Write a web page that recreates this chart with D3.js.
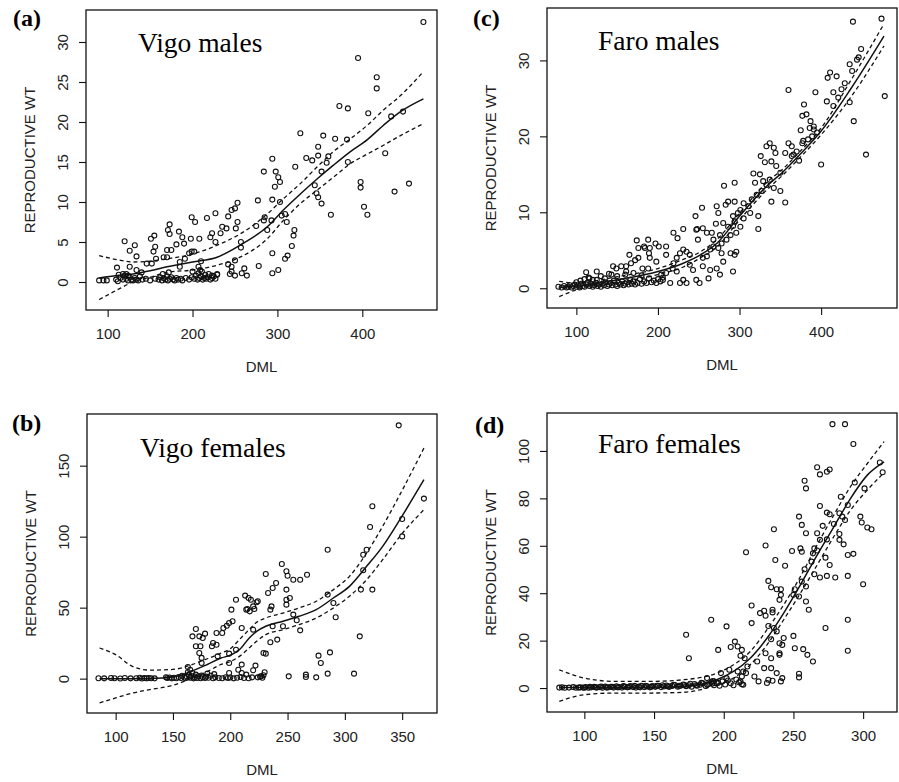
<!DOCTYPE html>
<html>
<head>
<meta charset="utf-8">
<script src="https://cdn.jsdelivr.net/npm/d3@7"></script>
<style>
  body { margin: 0; background: #fff; }
  svg { display: block; }
  .tick-label { font-family: "Liberation Sans", Arial, sans-serif; font-size: 15px; fill: #222; }
  .axis-title { font-family: "Liberation Sans", Arial, sans-serif; font-size: 15px; fill: #222; }
  .panel-tag { font-family: "Liberation Serif", "Times New Roman", serif; font-size: 24px; font-weight: bold; }
  .panel-title { font-family: "Liberation Serif", "Times New Roman", serif; font-size: 27.5px; }
</style>
</head>
<body>
<div id="chart"></div>
<script>
// ---- data (DML, reproductive weight) ----
const vigoMales = [
  [472,32.5],[395,28],[417,25.6],[417,24.2],[407,21.1],[373,22],[383,21.7],[434,20.7],[448,21.3],[427,16.1],
  [438,11.3],[455,12.3],[398,12.5],[398,11.8],[402,9.4],[406,8.4],[363,8.4],[327,18.6],[354,18.3],[368,17.9],
  [382,17.8],[348,16.9],[348,15.8],[334,15.5],[341,15.2],[360,15.7],[358,14.9],[383,15],[352,13.8],[344,12.1],
  [346,11.1],[348,10.6],[352,9.8],[321,14.4],[284,13.8],[294,15.4],[298,13.8],[301,13.1],[303,12.5],[297,11.9],
  [303,10],[294,10.3],[277,10.2],[275,7],[285,8.1],[284,7.7],[288,6.5],[293,7.7],[305,8.3],[309,8.5],
  [311,7.5],[320,6.5],[319,5.8],[317,4.5],[312,3.3],[309,2.9],[294,3.6],[294,1.1],[301,1.5],[278,2],
  [253,7.5],[257,5],[257,4.3],[251,6.7],[250,9.2],[253,9.9],[246,9],[242,8.2],[240,6.7],[235,6.9],
  [227,8.6],[217,8],[233,6.1],[227,5],[223,6.1],[221,5.6],[208,5.4],[199,8.1],[203,7.5],[198,5.4],
  [188,5.6],[190,4.8],[184,6.3],[173,7.2],[171,6.5],[173,6],[170,4],[175,4],[181,4.7],[199,3.8],
  [196,3.6],[202,3.8],[191,2.9],[185,2.5],[185,1.9],[166,3.1],[170,3.1],[157,2.9],[154,3.8],[156,4.4],
  [151,5.4],[155,5.8],[134,3.2],[132,4.6],[126,3.9],[120,5.1],[146,2.3],[152,2.3],[126,1.9],[111,1.8],
  [122,1],[134,1.5],[156,0.4],[250,2.7],[246,1.9],[242,2.2],[246,1.3],[250,0.8],[244,1],[258,1.1],
  [261,1.7],[264,0.8],[229,1],[209,1.5],[207,1.9],[200,1.3],[210,2.6],
  [90,0.2],[95,0.2],[99,0.2],[110,0.3],[112,0.1],[115,0.5],[118,0.3],[120,0.8],[122,0.4],[124,0.2],
  [126,0.6],[128,0.3],[130,0.2],[132,0.5],[134,0.3],[136,0.2],[138,0.7],[141,0.3],[145,0.4],[150,0.2],
  [160,0.3],[162,0.6],[164,0.2],[166,0.5],[168,0.3],[170,0.7],[171,0.2],[173,0.4],[175,0.6],[177,0.3],
  [179,0.2],[181,0.5],[183,0.3],[186,0.4],[188,0.2],[192,0.5],[196,0.3],[199,0.6],[202,0.4],[204,0.8],
  [206,0.3],[208,0.5],[210,0.7],[212,0.3],[214,0.5],[216,0.4],[218,0.6],[221,0.3],[223,0.5],[225,0.7],
  [227,0.4],[229,0.9],[113,0.9],[118,1.0],[124,0.8],[140,1.2],[165,1.0],[172,1.2],[207,1.1],[211,1.3],
  [215,0.9],[219,1.0],[223,0.8]
];
const vigoMalesFitX  = [90, 111, 130, 150, 170, 200, 229, 256, 288, 307, 327, 347, 366, 386, 406, 425, 445, 472];
const vigoMalesFit   = [0.5, 0.8, 1.0, 1.4, 1.9, 2.5, 3.1, 4.6, 6.9, 9.0, 11.0, 12.9, 14.6, 16.3, 17.8, 19.6, 21.3, 22.9];
const vigoMalesUpper = [3.3, 2.8, 2.5, 2.6, 2.9, 3.5, 4.6, 6.0, 8.5, 10.4, 12.3, 14.4, 16.3, 17.9, 19.6, 21.5, 23.3, 26.3];
const vigoMalesLower = [-2.2, -1.0, 0.0, 0.6, 1.2, 1.5, 2.1, 3.1, 5.4, 7.7, 9.8, 11.5, 13.1, 14.8, 16.0, 17.1, 18.3, 19.8];

const faroMales = [
  [474,35.5],[439,35.1],[478,25.3],[455,17.6],[440,22],[435,24.5],[435,29.5],[449,31.5],[446,30.4],[411,28.4],
  [408,27.7],[419,27.9],[415,25.8],[407,24.6],[393,25.8],[360,26.1],[400,16.3],[379,24.2],[377,22.7],[382,22.9],
  [375,20.8],[373,16.8],[387,22],[391,20.9],[384,19.6],[378,19.4],[356,11.3],[350,12.8],[339,11.4],[323,7.8],
  [323,9.5],[337,19.1],[342,18.5],[344,17.8],[333,18.7],[326,17.4],[331,16.6],[339,16.7],[360,19.1],[364,18.7],
  [356,17.8],[364,17.4],[345,16.1],[350,15.2],[317,15.1],[319,13.9],[325,15],[329,14.1],[333,13.6],[337,14.3],
  [342,13.2],[327,12.8],[321,12.3],[315,11.7],[311,10.8],[305,11.2],[301,10.3],[298,9.9],[292,9.5],[294,8.8],
  [281,13.5],[294,13.9],[294,11.4],[286,11.4],[283,11],[272,10.8],[274,9.9],[280,8.6],[286,8.1],[292,8.2],
  [296,7.3],[289,7],[296,4.8],[294,4.4],[289,4.6],[292,2.2],[278,4.6],[280,3.5],[276,1.8],[272,2.6],
  [274,5.3],[268,6.4],[266,7.3],[271,8.5],[276,7],[260,7.3],[255,7.9],[254,10.6],[247,7.7],[246,9.5],
  [248,7.8],[249,6.4],[231,7.8],[224,6.6],[219,7.3],[210,5.5],[210,4.4],[201,5.5],[197,5.9],[190,5.3],
  [188,6.4],[184,5.3],[183,5.5],[174,6.3],[176,5.3],[176,4],[172,3.7],[165,4.4],[167,3.3],[189,4.6],
  [190,4],[198,3.5],[188,2.6],[181,2.6],[161,2.9],[155,2.9],[145,2.9],[149,2.6],[161,2.2],[143,1.8],
  [112,2.1],[125,2.2],[116,1.3],[120,1.1],[235,4.8],[239,4.4],[231,5.1],[227,4.6],[223,4],[219,3.3],
  [218,2.6],[223,2.2],[231,1.1],[235,0.7],[247,1.1],[251,0.7],[262,1.3],[264,2.4],[255,2.9],[243,2.4],
  [239,3.1],[210,2],[204,1.8],[206,1.1],[215,0.7],[227,0.7],[255,4],[260,4.2],[264,5.1],[268,5.5],
  [278,5.9],[284,6.4],[301,8.1],[305,9.2],[313,9.9],[366,17.6],[370,18],[377,19.1],[389,20],[395,20.5],
  [386,21.1],[391,21.3],[415,24],[421,25.1],[425,26.2],[429,27],[438,28.6],[444,30.1],
  [78,0.2],[82,0.1],[85,0.3],[88,0.1],[90,0.2],[92,0.4],[94,0.1],[96,0.3],[98,0.5],[100,0.2],
  [102,0.4],[104,0.1],[106,0.6],[108,0.3],[110,0.2],[112,0.5],[114,0.8],[116,0.3],[118,0.6],[120,0.2],
  [122,0.4],[124,0.7],[126,0.3],[128,0.5],[130,0.2],[132,0.6],[134,0.4],[136,0.8],[138,0.3],[140,0.5],
  [142,0.7],[144,0.4],[146,1.0],[148,0.5],[150,0.3],[152,0.7],[154,0.5],[156,0.9],[158,0.4],[160,0.6],
  [162,0.8],[164,0.5],[166,1.1],[168,0.6],[170,0.9],[172,0.5],[175,0.7],[178,1.2],[180,0.6],[183,0.9],
  [186,0.7],[189,1.3],[192,0.8],[195,1.0],[198,0.7],[200,1.2],[203,0.9],[206,1.4],[100,0.8],[105,1.0],
  [110,1.2],[115,1.4],[125,1.1],[130,1.6],[135,1.3],[140,1.9],[150,1.6],[160,1.8],[170,2.0],[180,1.7]
];
const faroMalesFitX  = [79, 100, 149, 200, 231, 252, 272, 300, 333, 354, 374, 400, 436, 477];
const faroMalesFit   = [0.1, 0.3, 1.1, 2.2, 3.3, 4.4, 5.9, 9.5, 13.4, 15.4, 17.6, 20.7, 26.2, 33.2];
const faroMalesUpper = [0.9, 0.7, 1.5, 2.6, 3.8, 4.8, 6.4, 9.9, 13.9, 15.8, 18.0, 21.1, 27.3, 34.8];
const faroMalesLower = [-1.1, -0.2, 0.7, 1.8, 2.8, 4.0, 5.4, 9.0, 12.9, 15.0, 17.2, 20.2, 25.1, 31.9];

const vigoFemales = [
  [347,178.4],[369,126.8],[350,112.4],[350,100.2],[324,121.4],[322,106.8],[324,62.7],[314,62.7],[316,87.3],[319,90.8],
  [316,76.3],[313,29.8],[308,3.5],[285,90.8],[285,59.2],[290,53.3],[292,43.2],[287,18.5],[277,16.2],[279,11],
  [285,3.5],[275,0.9],[266,2.8],[266,1.2],[251,1.6],[267,73.2],[261,69.7],[255,69.7],[249,75.6],[250,72.5],
  [245,80.8],[249,62.7],[249,55.6],[252,56.8],[249,52.1],[255,45.1],[258,41.1],[261,34],[246,36.9],[237,36.9],
  [235,48.6],[236,50.9],[240,67.4],[237,63.8],[233,60.3],[231,73.7],[241,27.5],[235,25.6],[229,18.1],[231,17.6],
  [227,1.6],[230,4.5],[224,0.9],[222,9.2],[223,53.8],[224,54.5],[220,50.9],[221,49.1],[218,55.6],[216,56.8],
  [213,58.5],[215,49.1],[217,47.4],[214,48.6],[220,34.5],[210,35.7],[205,55.6],[201,48.6],[202,40.4],[199,39.2],
  [197,37.3],[194,35.7],[193,32.2],[188,32.2],[185,25.1],[184,22.8],[188,23.9],[178,31.7],[173,29.8],[176,28.6],
  [170,35],[167,29.8],[170,22.8],[174,22.8],[173,18.1],[175,14.6],[175,11],[163,8.2],[165,6.3],[189,15.7],
  [199,17.6],[205,20.4],[199,11],[199,4],[210,9.9],[210,4],[214,2.8],[220,5.9],[207,6.3],
  [85,0.3],[90,0.2],[96,0.5],[99,0.3],[104,0.1],[108,0.4],[113,0.2],[118,0.3],[121,0.6],[123,0.1],
  [125,0.4],[127,0.2],[129,0.5],[131,0.3],[134,0.2],[144,1.0],[145,0.4],[147,0.8],[149,0.2],[151,0.6],
  [153,0.3],[155,1.2],[157,0.5],[158,2.0],[160,0.8],[161,0.3],[162,1.5],[164,2.5],[165,0.6],[166,1.8],
  [168,0.2],[169,1.0],[170,2.8],[171,0.5],[172,1.6],[174,0.3],[175,2.2],[176,0.9],[178,0.4],[179,1.4],
  [181,0.6],[183,2.0],[185,0.3],[187,0.9],[190,0.5],[193,0.3],[196,1.0],[198,0.4],[200,0.8],[203,0.2],
  [206,0.6],[209,1.2],[212,0.4],[216,0.3],[219,0.9],[226,1.5],[228,0.6],[229,2.4],[163,4.5],[167,4],
  [180,3.5],[186,3.2]
];
const vigoFemalesFitX  = [86, 100, 115, 130, 150, 167, 180, 192, 200, 208, 217, 223, 231, 246, 260, 275, 290, 304, 319, 333, 348, 369];
const vigoFemalesFit   = [0, 0, 0, 0.1, 1.2, 5.5, 10, 14.5, 16.5, 20.4, 29, 33.3, 36.9, 40.4, 43.9, 48.6, 56.8, 65, 79.1, 93.2, 112, 140.1];
const vigoFemalesUpper = [21.6, 16.9, 8.5, 6.0, 6.5, 10, 14, 18, 21, 27.5, 35, 39.7, 42.7, 46.2, 49.8, 54.5, 62.7, 72, 88.5, 107.3, 129.6, 162.4];
const vigoFemalesLower = [-17.1, -13.6, -10.1, -7.7, -4.7, 0.5, 5, 10, 12, 15.7, 22, 26.3, 31, 34.5, 38, 42.7, 49.8, 58, 69.7, 83.8, 100.2, 119];

const faroFemales = [
  [278,111.3],[287,111.3],[293,102.9],[294,86.7],[312,95.1],[314,91],[301,84.2],[298,72.3],[299,69.8],[303,67.7],
  [306,67],[300,43.8],[293,56.6],[289,56.1],[289,47.3],[289,28.8],[289,15.7],[286,60.6],[284,80.7],[289,77.2],
  [283,73.7],[285,72.3],[287,70.9],[279,69.2],[283,65],[283,62.5],[280,46.6],[276,92.2],[267,93.1],[269,90.1],
  [274,91.2],[258,87.4],[259,84.2],[269,76.8],[274,74],[276,73.3],[271,68.4],[267,65.3],[259,65.3],[274,62.7],
  [269,62.5],[254,72.3],[256,68.8],[265,58.9],[264,56.8],[267,58],[255,58.9],[256,57.5],[249,57.8],[258,50.1],
  [263,53.3],[265,48],[269,46.6],[273,55],[276,51.9],[274,47.3],[256,44.9],[259,42.8],[251,41.7],[250,39.3],
  [254,38.6],[259,36.5],[261,33],[273,25.3],[250,22],[251,16.8],[257,16.4],[260,14],[264,11.2],[254,6],
  [254,4.5],[236,67],[230,60.1],[237,54],[244,51.6],[232,45.2],[238,41.7],[241,41.7],[241,39.3],[240,37.2],
  [234,42.5],[235,33],[235,31.9],[229,32.6],[230,30.5],[226,31.6],[232,26.2],[236,25.3],[238,23.9],[243,21.1],
  [240,18.9],[242,18.2],[240,14.7],[240,14],[234,20.6],[230,14.7],[234,12.6],[234,8.4],[229,8.4],[238,6.3],
  [242,4.2],[241,2.8],[235,3.1],[232,3.5],[220,34.8],[220,27.4],[216,57.3],[224,11.2],[222,4.9],[225,2.8],
  [231,2.1],[210,17.5],[213,16.1],[212,13.6],[215,12.6],[208,19.6],[205,17.3],[202,26],[191,28.8],[196,16.1],
  [173,22.5],[175,12.6],[217,9.1],[214,7],[216,6.3],[213,4.9],[212,2.8],[210,7],[204,7.7],[202,4.2],
  [198,6.3],[193,2.8],[188,4.2],[214,1.4],
  [82,0.2],[84,0.3],[86,0.1],[89,0.2],[94,0.1],[97,0.3],[99,0.2],[101,0.4],[103,0.1],[105,0.3],
  [107,0.5],[109,0.2],[111,0.4],[113,0.1],[115,0.6],[117,0.3],[119,0.5],[121,0.2],[123,0.7],[125,0.4],
  [127,0.2],[129,0.6],[131,0.3],[133,0.8],[135,0.4],[137,0.2],[139,0.6],[141,0.9],[143,0.4],[145,0.7],
  [147,0.3],[149,0.8],[151,0.5],[153,1.0],[155,0.4],[157,0.7],[159,1.1],[161,0.5],[163,0.9],[165,1.3],
  [167,0.6],[169,1.0],[171,1.5],[173,0.8],[175,1.2],[177,0.6],[179,1.7],[181,1.0],[183,1.4],[185,2.0],
  [187,0.9],[189,1.6],[191,2.4],[193,1.2],[195,2.0],[197,1.0],[199,2.8],[201,1.5],[203,3.2],[205,2.0],
  [207,1.2],[209,3.6],[211,2.4],[213,1.6],
  [92,0.4],[96,0.2],[100,0.1],[104,0.5],[108,0.3],[112,0.6],[116,0.2],[120,0.5],[124,0.3],[128,0.8],
  [132,0.5],[136,0.9],[140,0.3],[144,1.0],[148,0.6],[152,0.9],[156,1.2],[160,0.7],[164,1.4],[168,0.9],
  [172,1.3],[176,1.8],[180,1.2],[184,2.2],[188,1.5],[192,3.0],[196,2.2]
];
const faroFemalesFitX  = [82, 100, 123, 147, 171, 195, 207, 219, 231, 243, 255, 267, 279, 291, 303, 315];
const faroFemalesFit   = [0.2, 0.2, 0.2, 0.3, 0.7, 3.5, 7, 12.6, 21, 31.6, 43.5, 56.1, 68, 80, 89.8, 95.4];
const faroFemalesUpper = [7.7, 4.2, 2.8, 2.8, 3.5, 6.3, 9.8, 15.4, 24.6, 35.1, 47, 60.4, 73, 85, 94.7, 103.9];
const faroFemalesLower = [-5.6, -2.8, -2.1, -2.1, -1.8, 1.4, 4.2, 9.8, 18.2, 28.8, 40, 51.9, 63.9, 75.1, 83.5, 90.8];

// tick values
const vigoMalesXTicks = [100, 200, 300, 400];
const vigoMalesYTicks = [0, 5, 10, 15, 20, 25, 30];
const faroMalesXTicks = [100, 200, 300, 400];
const faroMalesYTicks = [0, 10, 20, 30];
const vigoFemalesXTicks = [100, 150, 200, 250, 300, 350];
const vigoFemalesYTicks = [0, 50, 100, 150];
const faroFemalesXTicks = [100, 150, 200, 250, 300];
const faroFemalesYTicks = [0, 20, 40, 60, 80, 100];

// ---- layout ----
const width = 899, height = 782;
const svg = d3.select("#chart").append("svg")
    .attr("width", width)
    .attr("height", height);

const panels = [
  { tag: "(a)", title: "Vigo males", pts: vigoMales, fx: vigoMalesFitX, fit: vigoMalesFit, hi: vigoMalesUpper, lo: vigoMalesLower,
    xt: vigoMalesXTicks, yt: vigoMalesYTicks, xd: [74.5, 488], yd: [-3.5, 34],
    box: { l: 86, r: 437, t: 10, b: 310 }, tagPos: [13, 26], titlePos: [138, 52] },
  { tag: "(c)", title: "Faro males", pts: faroMales, fx: faroMalesFitX, fit: faroMalesFit, hi: faroMalesUpper, lo: faroMalesLower,
    xt: faroMalesXTicks, yt: faroMalesYTicks, xd: [64, 493], yd: [-2.6, 36.9],
    box: { l: 547, r: 897, t: 8, b: 308 }, tagPos: [473, 26], titlePos: [598, 50] },
  { tag: "(b)", title: "Vigo females", pts: vigoFemales, fx: vigoFemalesFitX, fit: vigoFemalesFit, hi: vigoFemalesUpper, lo: vigoFemalesLower,
    xt: vigoFemalesXTicks, yt: vigoFemalesYTicks, xd: [75, 380.4], yd: [-24.2, 186.4],
    box: { l: 87, r: 437, t: 414, b: 713 }, tagPos: [12, 431], titlePos: [140, 457] },
  { tag: "(d)", title: "Faro females", pts: faroFemales, fx: faroFemalesFitX, fit: faroFemalesFit, hi: faroFemalesUpper, lo: faroFemalesLower,
    xt: faroFemalesXTicks, yt: faroFemalesYTicks, xd: [73.2, 324.3], yd: [-10.1, 116],
    box: { l: 547, r: 897, t: 413, b: 712 }, tagPos: [475, 433], titlePos: [598, 453] }
];

function drawPanel(p) {
  const g = svg.append("g");
  const x = d3.scaleLinear().domain(p.xd).range([p.box.l, p.box.r]);
  const y = d3.scaleLinear().domain(p.yd).range([p.box.b, p.box.t]);

  // points
  g.selectAll(".pt")
    .data(p.pts)
    .join("circle")
    .attr("class", "pt")
    .attr("cx", d => x(d[0]))
    .attr("cy", d => y(d[1]))
    .attr("r", 2.5)
    .attr("fill", "none")
    .attr("stroke", "#111")
    .attr("stroke-width", 1.1);

  // fitted curve and bands
  const series = [
    { vals: p.fit, dash: null, w: 1.5 },
    { vals: p.hi, dash: "4,3", w: 1.3 },
    { vals: p.lo, dash: "4,3", w: 1.3 }
  ];
  const line = d3.line()
    .x(d => x(d[0]))
    .y(d => y(d[1]))
    .curve(d3.curveMonotoneX);
  series.forEach(s => {
    g.append("path")
      .attr("d", line(p.fx.map((v, i) => [v, s.vals[i]])))
      .attr("fill", "none")
      .attr("stroke", "#111")
      .attr("stroke-width", s.w)
      .attr("stroke-dasharray", s.dash);
  });

  // box
  g.append("rect")
    .attr("x", p.box.l).attr("y", p.box.t)
    .attr("width", p.box.r - p.box.l).attr("height", p.box.b - p.box.t)
    .attr("fill", "none").attr("stroke", "#111").attr("stroke-width", 1.3);

  // x axis
  const xAxis = d3.axisBottom(x).tickValues(p.xt).tickSize(7).tickSizeOuter(0).tickPadding(4);
  const xg = g.append("g").attr("transform", `translate(0,${p.box.b})`).call(xAxis);
  xg.select(".domain").remove();
  xg.selectAll("line").attr("stroke", "#111").attr("stroke-width", 1.1);
  xg.selectAll("text").attr("class", "tick-label").attr("font-size", null).attr("font-family", null)
    .attr("fill", "#222").attr("y", 18).attr("dy", "0.71em");

  // y axis with rotated labels
  const yAxis = d3.axisLeft(y).tickValues(p.yt).tickSize(7).tickSizeOuter(0);
  const yg = g.append("g").attr("transform", `translate(${p.box.l},0)`).call(yAxis);
  yg.select(".domain").remove();
  yg.selectAll("line").attr("stroke", "#111").attr("stroke-width", 1.1);
  yg.selectAll("text").remove();
  yg.selectAll(".tick").append("text")
    .attr("class", "tick-label")
    .attr("transform", "translate(-23,0) rotate(-90)")
    .attr("text-anchor", "middle")
    .attr("dy", "0.36em")
    .text(d => d);

  // axis titles
  g.append("text").attr("class", "axis-title")
    .attr("x", (p.box.l + p.box.r) / 2).attr("y", p.box.b + 57)
    .attr("text-anchor", "middle").attr("dy", "0.36em").text("DML");
  g.append("text").attr("class", "axis-title")
    .attr("transform", `translate(${p.box.l - 56},${(p.box.t + p.box.b) / 2}) rotate(-90)`)
    .attr("text-anchor", "middle").attr("dy", "0.36em").text("REPRODUCTIVE WT");

  // tag and title
  g.append("text").attr("class", "panel-tag").attr("x", p.tagPos[0]).attr("y", p.tagPos[1]).text(p.tag);
  g.append("text").attr("class", "panel-title").attr("x", p.titlePos[0]).attr("y", p.titlePos[1]).text(p.title);
}

panels.forEach(drawPanel);
</script>
</body>
</html>
